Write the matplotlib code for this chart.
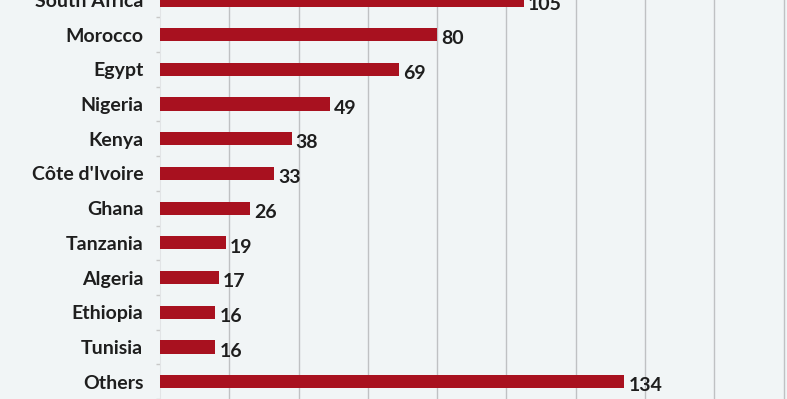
import matplotlib
matplotlib.use("Agg")
import matplotlib.pyplot as plt

# region data
countries = ["South Africa", "Morocco", "Egypt", "Nigeria", "Kenya",
             "Côte d'Ivoire", "Ghana", "Tanzania", "Algeria", "Ethiopia",
             "Tunisia", "Others"]
values = [105, 80, 69, 49, 38, 33, 26, 19, 17, 16, 16, 134]
grid_ticks = [20, 40, 60, 80, 100, 120, 140, 160, 180]
# endregion

bg = "#f1f5f6"
bar_color = "#a8111f"
text_color = "#1e1e1e"

plt.rcParams['font.family'] = ['Lato', 'DejaVu Sans']

fig = plt.figure(figsize=(7.87, 3.99), dpi=100, facecolor=bg)
ax = fig.add_axes([160 / 787, 0, 627 / 787, 1], facecolor=bg)

ypos = list(range(len(countries)))
ax.barh(ypos, values, height=0.38, color=bar_color, zorder=3)

for y, v in zip(ypos, values):
    ax.annotate(str(v), (v, y), xytext=(3, -3), textcoords="offset points",
                ha="left", va="center", fontsize=14, fontweight="bold",
                color=text_color, zorder=4)

ax.set_xlim(0, 181)
ax.set_ylim(11.30, 0.087)

ax.set_xticks(grid_ticks)
ax.xaxis.grid(True, color="#bfc1c3", linewidth=1.0, zorder=0)
ax.tick_params(axis="x", length=0, labelbottom=False)

ax.set_yticks(ypos)
ax.set_yticklabels(countries, fontsize=14, fontweight="bold", color=text_color)
ax.tick_params(axis="y", length=0, pad=12)
# small boundary ticks on the category axis
ax.set_yticks([i + 0.5 for i in ypos], minor=True)
ax.tick_params(axis="y", which="minor", length=3, color="#c8c8c8", width=1)

for side in ["top", "right", "bottom"]:
    ax.spines[side].set_visible(False)
ax.spines["left"].set_color("#e2e4e6")

fig.savefig("out.png", dpi=100, facecolor=bg)
